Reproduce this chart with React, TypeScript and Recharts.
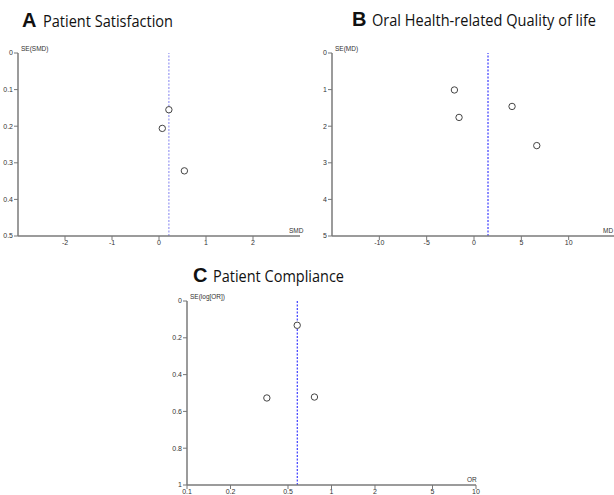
import React from "react";
import { ScatterChart, Scatter, XAxis, YAxis, ReferenceLine } from "recharts";

// Panel A: Patient Satisfaction
const satSmd = [0.21, 0.07, 0.54];
const satSe = [0.155, 0.206, 0.322];
const satPooled = 0.21;
const satXTicks = [-2, -1, 0, 1, 2];
const satYTicks = [0, 0.1, 0.2, 0.3, 0.4, 0.5];

// Panel B: Oral Health-related Quality of life
const ohMd = [-2.07, -1.58, 4.02, 6.63];
const ohSe = [1.01, 1.76, 1.46, 2.53];
const ohPooled = 1.48;
const ohXTicks = [-10, -5, 0, 5, 10];
const ohYTicks = [0, 1, 2, 3, 4, 5];

// Panel C: Patient Compliance
const compOr = [0.579, 0.357, 0.762];
const compSe = [0.132, 0.527, 0.522];
const compPooled = 0.58;
const compXTicks = [0.1, 0.2, 0.5, 1, 2, 5, 10];
const compYTicks = [0, 0.2, 0.4, 0.6, 0.8, 1];

const toPoints = (xs: number[], ys: number[]) => xs.map((x, i) => ({ x, y: ys[i] }));

const FONT = "'Liberation Sans', Arial, sans-serif";
const tickStyle = { fontSize: 7, fill: "#333", fontFamily: FONT };
const axisLine = { stroke: "#7a7a7a", strokeWidth: 1.5 };
const tickLine = { stroke: "#777" };

const Dot = (props: any) => (
  <circle cx={props.cx} cy={props.cy} r={3.2} fill="#fff" stroke="#444" strokeWidth={1} />
);

type PanelProps = {
  data: { x: number; y: number }[];
  width: number;
  height: number;
  margin: { top: number; right: number; bottom: number; left: number };
  yWidth: number;
  xHeight: number;
  xDomain: [number, number];
  xTicks: number[];
  yDomain: [number, number];
  yTicks: number[];
  pooled: number;
  lineColor: string;
  log?: boolean;
};

const Panel = (p: PanelProps) => (
  <ScatterChart width={p.width} height={p.height} margin={p.margin}>
    <XAxis
      type="number"
      dataKey="x"
      scale={p.log ? "log" : "auto"}
      domain={p.xDomain}
      ticks={p.xTicks}
      allowDataOverflow
      height={p.xHeight}
      tickSize={4}
      tickMargin={0}
      axisLine={axisLine}
      tickLine={tickLine}
      tick={tickStyle}
      interval={0}
    />
    <YAxis
      type="number"
      dataKey="y"
      reversed
      domain={p.yDomain}
      ticks={p.yTicks}
      allowDataOverflow
      width={p.yWidth}
      tickSize={4}
      tickMargin={1}
      axisLine={axisLine}
      tickLine={tickLine}
      tick={tickStyle}
      interval={0}
    />
    <ReferenceLine
      x={p.pooled}
      stroke={p.lineColor}
      strokeWidth={1.3}
      strokeDasharray="2 1.5"
    />
    <Scatter data={p.data} shape={Dot} isAnimationActive={false} />
  </ScatterChart>
);

export default function App() {
  return (
    <div
      style={{
        position: "absolute",
        left: 0,
        top: 0,
        width: 614,
        height: 495,
        overflow: "hidden",
        background: "#fff",
      }}
    >
      <div style={{ position: "absolute", left: 0, top: 0 }}>
        <Panel
          data={toPoints(satSmd, satSe)}
          width={307}
          height={250}
          margin={{ top: 53, right: 7, bottom: 0, left: 0 }}
          yWidth={18}
          xHeight={14}
          xDomain={[-3, 3]}
          xTicks={satXTicks}
          yDomain={[0, 0.5]}
          yTicks={satYTicks}
          pooled={satPooled}
          lineColor="#a0a0f4"
        />
      </div>
      <div style={{ position: "absolute", left: 307, top: 0 }}>
        <Panel
          data={toPoints(ohMd, ohSe)}
          width={312}
          height={250}
          margin={{ top: 53, right: 3, bottom: 0, left: 0 }}
          yWidth={25}
          xHeight={14}
          xDomain={[-15, 15]}
          xTicks={ohXTicks}
          yDomain={[0, 5]}
          yTicks={ohYTicks}
          pooled={ohPooled}
          lineColor="#4a4aff"
        />
      </div>
      <div style={{ position: "absolute", left: 150, top: 250 }}>
        <Panel
          data={toPoints(compOr, compSe)}
          width={340}
          height={245}
          margin={{ top: 51, right: 14, bottom: 0, left: 0 }}
          yWidth={37}
          xHeight={10}
          xDomain={[0.1, 10]}
          xTicks={compXTicks}
          yDomain={[0, 1]}
          yTicks={compYTicks}
          pooled={compPooled}
          lineColor="#4a4aff"
          log
        />
      </div>
      <svg
        width={614}
        height={495}
        style={{ position: "absolute", left: 0, top: 0, pointerEvents: "none" }}
      >
        <g fontFamily={FONT} fill="#111">
          <text x={22} y={27} fontSize={20} fontWeight="bold">A</text>
          <text x={43} y={27} fontSize={15.5} fontFamily="'Open Sans', sans-serif" textLength={130} lengthAdjust="spacingAndGlyphs">
            Patient Satisfaction
          </text>
          <text x={352} y={26} fontSize={20} fontWeight="bold">B</text>
          <text x={372} y={26} fontSize={15.5} fontFamily="'Open Sans', sans-serif" textLength={224} lengthAdjust="spacingAndGlyphs">
            Oral Health-related Quality of life
          </text>
          <text x={193} y={282} fontSize={20} fontWeight="bold">C</text>
          <text x={213} y={282} fontSize={15.5} fontFamily="'Open Sans', sans-serif" textLength={131} lengthAdjust="spacingAndGlyphs">
            Patient Compliance
          </text>
        </g>
        <g fontFamily={FONT} fill="#333" fontSize={6.5}>
          <text x={21} y={51}>SE(SMD)</text>
          <text x={289} y={233}>SMD</text>
          <text x={335} y={51}>SE(MD)</text>
          <text x={603} y={233}>MD</text>
          <text x={190} y={299}>SE(log[OR])</text>
          <text x={467} y={482}>OR</text>
        </g>
      </svg>
    </div>
  );
}
